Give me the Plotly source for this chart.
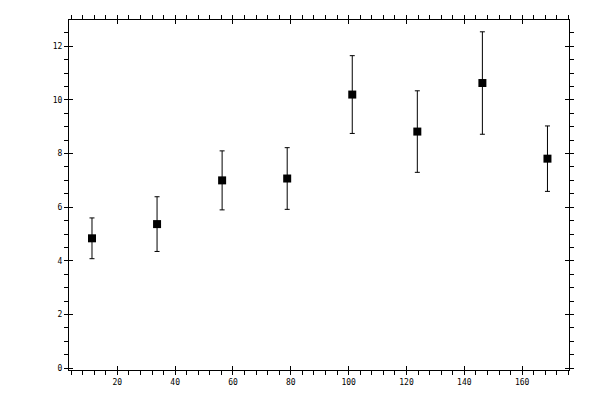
import plotly.graph_objects as go

x_vals = [11.25, 33.75, 56.25, 78.75, 101.25, 123.75, 146.25, 168.75]
y_vals = [4.84, 5.37, 7.00, 7.07, 10.20, 8.82, 10.63, 7.81]
y_err = [0.76, 1.02, 1.10, 1.15, 1.45, 1.52, 1.91, 1.22]

x_range = [3.3, 176.2]
y_range = [-0.07, 12.98]

font = dict(family="DejaVu Sans Mono", size=8, color="black")

fig = go.Figure()
fig.add_trace(go.Scatter(
    x=x_vals, y=y_vals, mode="markers",
    marker=dict(symbol="square", size=8, color="black"),
    error_y=dict(type="data", array=y_err, color="black", thickness=1, width=2.5),
    showlegend=False,
))
# empty trace so the overlay axes (inner halves of the major ticks) get drawn
fig.add_trace(go.Scatter(x=[], y=[], xaxis="x2", yaxis="y2", showlegend=False))

common = dict(showline=True, linecolor="black", linewidth=1, mirror="allticks",
              showgrid=False, zeroline=False, ticks="outside", ticklen=4,
              tickcolor="black", tickwidth=1, tickfont=font)

# page body adds an 8px offset, so the figure is a bit smaller than the window
fig.update_layout(
    width=592, height=392,
    margin=dict(l=61, r=31, t=7, b=30),
    paper_bgcolor="white", plot_bgcolor="white",
    xaxis=dict(range=x_range, tick0=0, dtick=20, **common,
               minor=dict(ticks="outside", ticklen=4, dtick=4, tick0=0,
                          tickcolor="black", tickwidth=1)),
    yaxis=dict(range=y_range, tick0=0, dtick=2, **common,
               minor=dict(ticks="outside", ticklen=4, dtick=0.5, tick0=0,
                          tickcolor="black", tickwidth=1)),
    xaxis2=dict(range=x_range, overlaying="x", tick0=0, dtick=20,
                ticks="inside", ticklen=4, tickcolor="black", mirror="ticks",
                showline=False, showgrid=False, zeroline=False,
                showticklabels=False),
    yaxis2=dict(range=y_range, overlaying="y", tick0=0, dtick=2,
                ticks="inside", ticklen=4, tickcolor="black", mirror="ticks",
                showline=False, showgrid=False, zeroline=False,
                showticklabels=False),
)

fig.write_html("out.html")
